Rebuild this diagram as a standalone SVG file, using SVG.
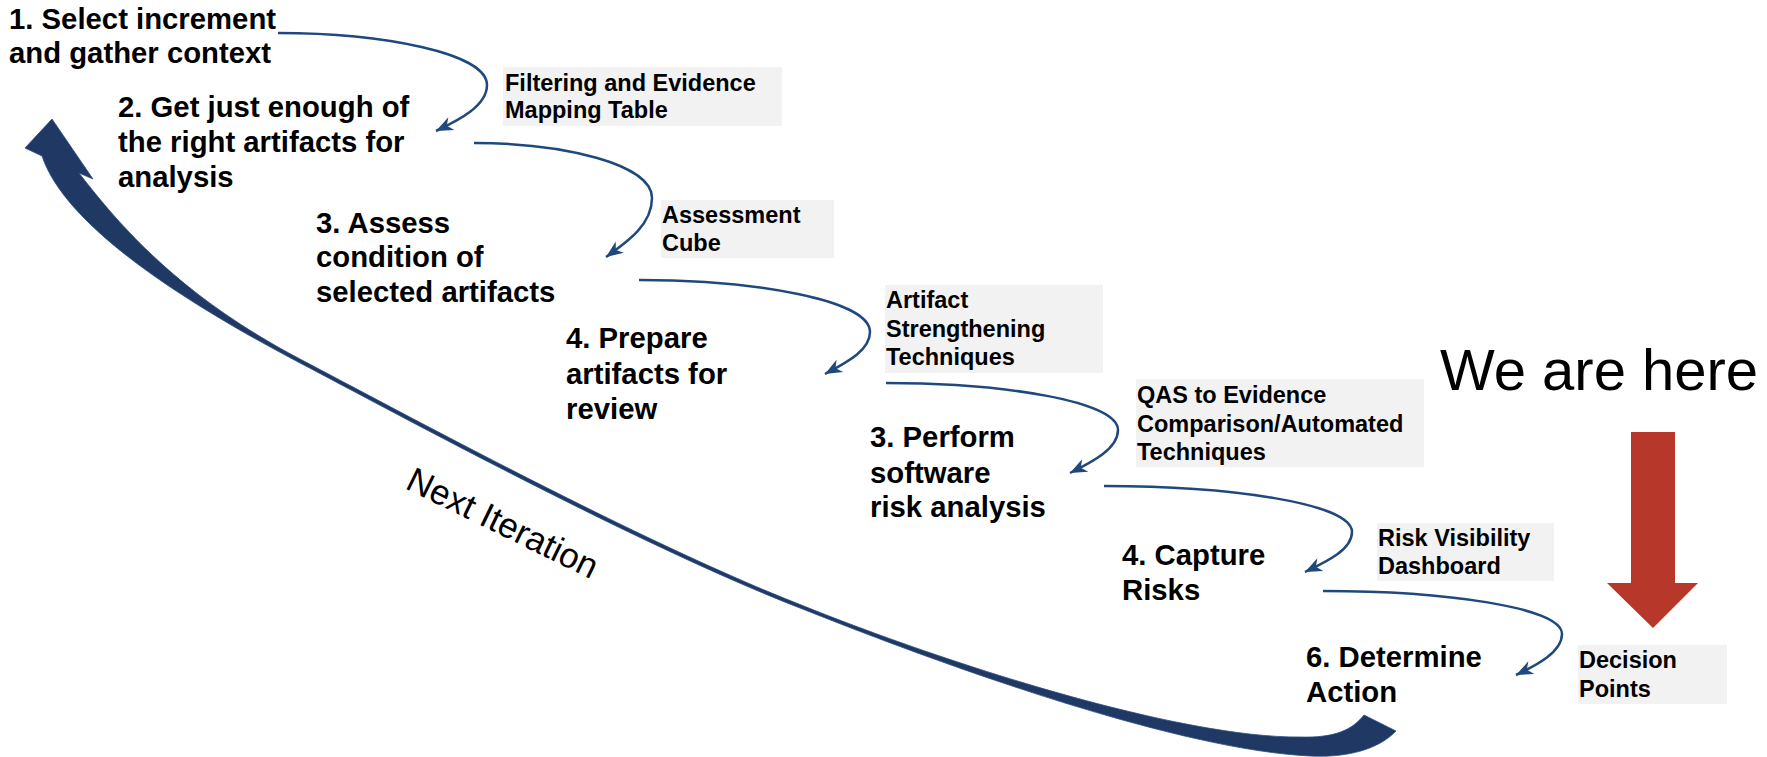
<svg xmlns="http://www.w3.org/2000/svg" width="1767" height="757" viewBox="0 0 1767 757">
<style>
.step{font-family:"Liberation Sans",Arial,sans-serif;font-weight:bold;font-size:29.3px;fill:#000}
.lbl{font-family:"Liberation Sans",Arial,sans-serif;font-weight:bold;font-size:23.5px;fill:#000}
.box{fill:#f2f2f2}
.con{fill:none;stroke:#1f497d;stroke-width:2.5;marker-end:url(#ah)}
</style>
<defs>
<marker id="ah" viewBox="-18 -8 20 16" refX="0" refY="0" markerWidth="20" markerHeight="16" markerUnits="userSpaceOnUse" orient="auto">
<path d="M0,0 L-17,-7 L-12,0 L-17,7 Z" fill="#1f497d"/>
</marker>
</defs>
<rect width="1767" height="757" fill="#fff"/>

<g id="next-iteration">
<path d="M42,156 C65,225 180,300 300,363 C400,415.5 640,546 800,608 C950,668 1180,750 1310,756 C1350,758 1380,748 1396,731 L1364,715 C1352,730 1335,738 1300,737 C1180,738 950,665 800,604.5 C640,542 400,411.5 300,359 C180,296 120,226 79,173 L93,179 L52,119 L25,148 Z" fill="#1f3864" stroke="#2b4f82" stroke-width="0.8"/>
<text x="404" y="488" transform="rotate(26 404 488)" font-family="Liberation Sans, Arial, sans-serif" font-size="35">Next Iteration</text>
</g>

<g id="connectors">
<path class="con" d="M278,33 C382,33 487,53 487,85 C487,106 459,120 436,131"/>
<path class="con" d="M474,143 C563,143 652,164 652,198 C652,225 627,242 606,257"/>
<path class="con" d="M639,280 C755,280 870,300 870,332 C870,351 845,363 825,374"/>
<path class="con" d="M886,383 C1002,383 1118,401 1118,430 C1118,449 1092,462 1070,473"/>
<path class="con" d="M1104,486 C1228,486 1352,503 1352,532 C1352,550 1326,562 1305,572"/>
<path class="con" d="M1323,591 C1443,591 1562,607 1562,634 C1562,652 1537,665 1516,675"/>
</g>

<g id="step1"><text class="step" x="9" y="29">1. Select increment</text><text class="step" x="9" y="63">and gather context</text></g>
<g id="step2"><text class="step" x="118" y="117">2. Get just enough of</text><text class="step" x="118" y="152">the right artifacts for</text><text class="step" x="118" y="187">analysis</text></g>
<g id="step3"><text class="step" x="316" y="233">3. Assess</text><text class="step" x="316" y="267">condition of</text><text class="step" x="316" y="302">selected artifacts</text></g>
<g id="step4"><text class="step" x="566" y="348">4. Prepare</text><text class="step" x="566" y="384">artifacts for</text><text class="step" x="566" y="419">review</text></g>
<g id="step5"><text class="step" x="870" y="447">3. Perform</text><text class="step" x="870" y="483">software</text><text class="step" x="870" y="517">risk analysis</text></g>
<g id="step6"><text class="step" x="1122" y="565">4. Capture</text><text class="step" x="1122" y="600">Risks</text></g>
<g id="step7"><text class="step" x="1306" y="667">6. Determine</text><text class="step" x="1306" y="702">Action</text></g>

<g id="label1"><rect class="box" x="503" y="67" width="279" height="59"/><text class="lbl" x="505" y="91">Filtering and Evidence</text><text class="lbl" x="505" y="118">Mapping Table</text></g>
<g id="label2"><rect class="box" x="661" y="200" width="173" height="58"/><text class="lbl" x="662" y="223">Assessment</text><text class="lbl" x="662" y="251">Cube</text></g>
<g id="label3"><rect class="box" x="885" y="285" width="218" height="88"/><text class="lbl" x="886" y="308">Artifact</text><text class="lbl" x="886" y="337">Strengthening</text><text class="lbl" x="886" y="365">Techniques</text></g>
<g id="label4"><rect class="box" x="1136" y="379" width="288" height="88"/><text class="lbl" x="1137" y="403">QAS to Evidence</text><text class="lbl" x="1137" y="432">Comparison/Automated</text><text class="lbl" x="1137" y="460">Techniques</text></g>
<g id="label5"><rect class="box" x="1377" y="523" width="177" height="58"/><text class="lbl" x="1378" y="546">Risk Visibility</text><text class="lbl" x="1378" y="574">Dashboard</text></g>
<g id="label6"><rect class="box" x="1578" y="645" width="149" height="59"/><text class="lbl" x="1579" y="668">Decision</text><text class="lbl" x="1579" y="697">Points</text></g>

<g id="we-are-here">
<text x="1440" y="390" font-family="Liberation Sans, Arial, sans-serif" font-size="58">We are here</text>
<polygon points="1631,432 1675,432 1675,583 1698,583 1653,628 1607,583 1631,583" fill="#b7372b"/>
</g>
</svg>
